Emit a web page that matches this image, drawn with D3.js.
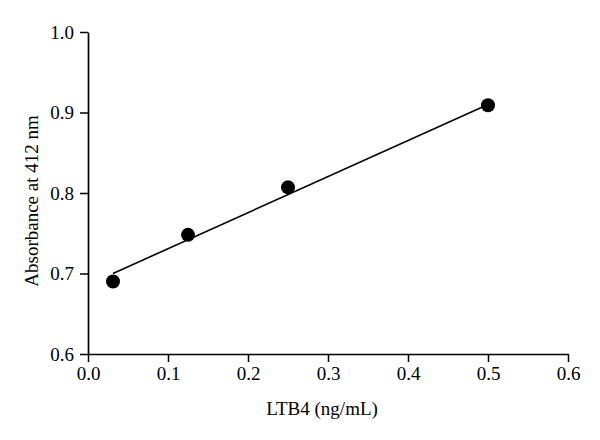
<!DOCTYPE html>
<html>
<head>
<meta charset="utf-8">
<script src="https://cdn.jsdelivr.net/npm/d3@7"></script>
<style>
  body { margin: 0; background: #fff; }
  text { font-family: "Liberation Serif", "DejaVu Serif", serif; fill: #000; }
</style>
</head>
<body>
<div id="chart"></div>
<script>
// LTB4 concentrations (ng/mL) and absorbance at 412 nm
var concentration = [0.03125, 0.125, 0.25, 0.5];
var absorbance = [0.690, 0.748, 0.807, 0.909];

// end points of the fitted line
var fitX = [0.03125, 0.5];
var fitY = [0.700, 0.910];

var xTicks = [0.0, 0.1, 0.2, 0.3, 0.4, 0.5, 0.6];
var yTicks = [0.6, 0.7, 0.8, 0.9, 1.0];

var svgWidth = 600;
var svgHeight = 440;

var margin = {
    top: 32,
    right: 32,
    bottom: 86,
    left: 88
};

var width = svgWidth - margin.left - margin.right;
var height = svgHeight - margin.top - margin.bottom;

var svg = d3.select("#chart")
    .append("svg")
    .attr("width", svgWidth)
    .attr("height", svgHeight);

var chartGroup = svg.append("g")
    .attr("transform", `translate(${margin.left}, ${margin.top})`);

var x = d3.scaleLinear().domain([0, 0.6]).range([0, width]);
var y = d3.scaleLinear().domain([0.6, 1.0]).range([height, 0]);

// x-axis
var xAxis = chartGroup.append("g")
    .attr("transform", `translate(0, ${height})`)
    .call(d3.axisBottom(x).tickValues(xTicks).tickFormat(d3.format(".1f"))
        .tickSizeInner(8).tickSizeOuter(0).tickPadding(5));

// y-axis
var yAxis = chartGroup.append("g")
    .call(d3.axisLeft(y).tickValues(yTicks).tickFormat(d3.format(".1f"))
        .tickSizeInner(8).tickSizeOuter(0).tickPadding(6));

[xAxis, yAxis].forEach(ax => {
    ax.select(".domain").attr("stroke", "#000").attr("stroke-width", 1.7);
    ax.selectAll(".tick line").attr("stroke", "#000").attr("stroke-width", 1.5);
    ax.selectAll(".tick text")
        .style("font-family", "Liberation Serif, DejaVu Serif, serif")
        .style("font-size", "19px")
        .attr("fill", "#000");
});

// fitted line
var fitData = fitX.map((v, i) => ({ x: v, y: fitY[i] }));
chartGroup.append("path")
    .datum(fitData)
    .attr("fill", "none")
    .attr("stroke", "#000")
    .attr("stroke-width", 1.6)
    .attr("d", d3.line().x(d => x(d.x)).y(d => y(d.y)));

// points
chartGroup.selectAll("circle.pt")
    .data(concentration.map((c, i) => ({ x: c, y: absorbance[i] })))
    .enter()
    .append("circle")
    .classed("pt", true)
    .attr("cx", d => x(d.x))
    .attr("cy", d => y(d.y))
    .attr("r", 7)
    .attr("fill", "#000");

// axis titles
chartGroup.append("text")
    .attr("x", width / 2 - 6)
    .attr("y", height + 61)
    .attr("text-anchor", "middle")
    .style("font-size", "19px")
    .text("LTB4 (ng/mL)");

chartGroup.append("text")
    .attr("transform", "rotate(-90)")
    .attr("x", -(height / 2) - 8)
    .attr("y", -50)
    .attr("text-anchor", "middle")
    .style("font-size", "19px")
    .text("Absorbance at 412 nm");
</script>
</body>
</html>
